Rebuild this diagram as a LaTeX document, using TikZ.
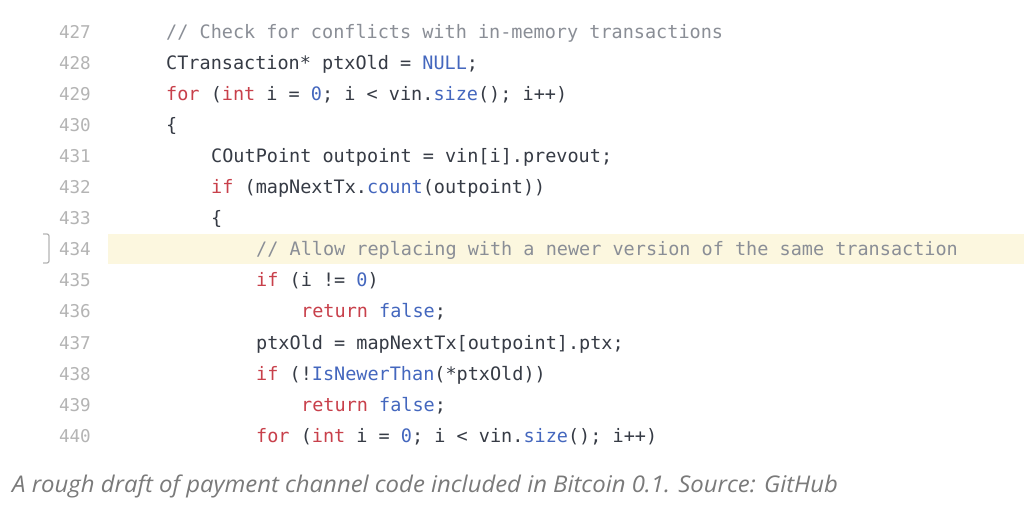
\documentclass[tikz,border=0pt]{standalone}
\usepackage{fontspec}
\setmonofont{DejaVu Sans Mono}
\newfontfamily\capfont{Open Sans}
\definecolor{txt}{HTML}{363B45}
\definecolor{cmt}{HTML}{8A8E96}
\definecolor{kw}{HTML}{C8404B}
\definecolor{fn}{HTML}{4467BE}
\definecolor{lnum}{HTML}{B4B4B4}
\definecolor{hl}{HTML}{FCF7DF}
\definecolor{capc}{HTML}{7A7A7A}
\newcommand{\K}[1]{\textcolor{kw}{#1}}
\newcommand{\F}[1]{\textcolor{fn}{#1}}
\tikzset{
  num/.style={anchor=base east, inner sep=0pt, text=lnum, font=\ttfamily\fontsize{17.6}{20}\selectfont},
  code/.style={anchor=base west, inner sep=0pt, text=txt, font=\ttfamily\fontsize{18.5}{20}\selectfont},
  cmtline/.style={code, text=cmt},
  caption/.style={anchor=base west, inner sep=0pt, text=capc, font=\capfont\itshape\fontsize{23}{26}\selectfont}
}
\begin{document}
\begin{tikzpicture}[x=1pt,y=1pt]
\useasboundingbox (0,0) rectangle (1024,506);
\fill[white] (0,0) rectangle (1024,506);
% highlight band
\fill[hl] (108,506-264) rectangle (1024,506-234);
\draw[lnum, line width=1.2pt, rounded corners=2pt] (43,506-234) -- (49,506-234) -- (49,506-263) -- (43,506-263);
% line numbers
\foreach \n [count=\k from 0] in {427,...,440}
  \node[num] (n\n) at (91,{506-39-31*\k}) {\n};
% code lines
\node[cmtline] (c427) at (166,{506-39-31*0}) {// Check for conflicts with in-memory transactions};
\node[code] (c428) at (166,{506-39-31*1}) {CTransaction* ptxOld = \F{NULL};};
\node[code] (c429) at (166,{506-39-31*2}) {\K{for} (\K{int} i = \F{0}; i < vin.\F{size}(); i++)};
\node[code] (c430) at (166,{506-39-31*3}) {\{};
\node[code] (c431) at (211,{506-39-31*4}) {COutPoint outpoint = vin[i].prevout;};
\node[code] (c432) at (211,{506-39-31*5}) {\K{if} (mapNextTx.\F{count}(outpoint))};
\node[code] (c433) at (211,{506-39-31*6}) {\{};
\node[cmtline] (c434) at (256,{506-39-31*7}) {// Allow replacing with a newer version of the same transaction};
\node[code] (c435) at (256,{506-39-31*8}) {\K{if} (i != \F{0})};
\node[code] (c436) at (301,{506-39-31*9}) {\K{return} \F{false};};
\node[code] (c437) at (256,{506-39-31*10}) {ptxOld = mapNextTx[outpoint].ptx;};
\node[code] (c438) at (256,{506-39-31*11}) {\K{if} (!\F{IsNewerThan}(*ptxOld))};
\node[code] (c439) at (301,{506-39-31*12}) {\K{return} \F{false};};
\node[code] (c440) at (256,{506-39-31*13}) {\K{for} (\K{int} i = \F{0}; i < vin.\F{size}(); i++)};
% caption
\node[caption] (cap) at (12,506-492) {\scalebox{1.039}[1]{A rough draft of payment channel code included in Bitcoin 0.1. Source: GitHub}};
\end{tikzpicture}
\end{document}
